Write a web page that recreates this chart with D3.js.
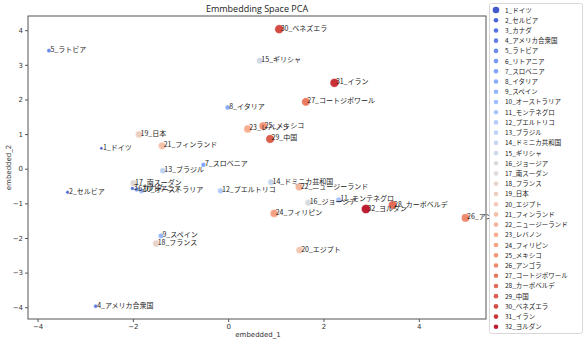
<!DOCTYPE html>
<html>
<head>
<meta charset="utf-8">
<script src="https://cdn.jsdelivr.net/npm/d3@7"></script>
<style>
  html, body { margin: 0; padding: 0; background: #fff; }
  svg { display: block; }
  text { font-family: "Noto Sans CJK JP", "Noto Sans", sans-serif; }
</style>
</head>
<body>
<svg id="chart" width="586" height="345"></svg>
<script>
// Country labels (index_name), in legend order
const countries = ["ドイツ","セルビア","カナダ","アメリカ合衆国","ラトビア","リトアニア","スロベニア","イタリア",
  "スペイン","オーストラリア","モンテネグロ","プエルトリコ","ブラジル","ドミニカ共和国","ギリシャ","ジョージア",
  "南スーダン","フランス","日本","エジプト","フィンランド","ニュージーランド","レバノン","フィリピン",
  "メキシコ","アンゴラ","コートジボワール","カーボベルデ","中国","ベネズエラ","イラン","ヨルダン"];

// First principal component of each country's embedding
const embedded1 = [-2.66,-3.37,-2.01,-2.78,-3.76,-1.92,-0.52,-0.01,
  -1.41,-1.82,2.32,-0.16,-1.37,0.90,0.665,1.68,
  -1.985,-1.51,-1.87,1.50,-1.385,1.49,0.41,0.965,
  0.735,4.98,1.63,3.45,0.88,1.07,2.23,2.89];

// Second principal component
const embedded2 = [0.59,-0.68,-0.57,-3.97,3.41,-0.60,0.11,1.77,
  -1.94,-0.64,-0.90,-0.64,-0.06,-0.39,3.12,-0.98,
  -0.42,-2.16,0.99,-2.35,0.66,-0.53,1.15,-1.29,
  1.23,-1.42,1.93,-1.05,0.86,4.03,2.48,-1.165];

const xTicks = [-4,-2,0,2,4];
const yTicks = [-4,-3,-2,-1,0,1,2,3,4];

const labels = countries.map((c, i) => `${i + 1}_${c}`);
const data = labels.map((l, i) => ({ label: l, idx: i, x: embedded1[i], y: embedded2[i] }));

// Diverging blue→grey→red colour ramp
const coolwarmStops = ["#3b4cc0","#5977e3","#7b9ff9","#9ebeff","#c0d4f5","#dddcdc",
  "#f2cbb7","#f7ac8e","#ee8468","#d65244","#b40426"];
const ramp = d3.scaleLinear().domain(d3.range(11).map(i => i / 10)).range(coolwarmStops)
  .interpolate(d3.interpolateRgb);
const n = labels.length;
const color = i => ramp((i + 1) / (n + 1));

const svg = d3.select("#chart");
const m = { left: 28, right: 486, top: 16, bottom: 319 };

const x = d3.scaleLinear().domain([-4.2, 5.41]).range([m.left, m.right]);
const y = d3.scaleLinear().domain([-4.34, 4.41]).range([m.bottom, m.top]);
// marker area grows with the country index
const r = d3.scaleSqrt().domain([0, n - 1]).range([1.5, 4.5]);
const rArea = i => Math.sqrt(1.5 * 1.5 + (4.5 * 4.5 - 1.5 * 1.5) * i / (n - 1));

// frame
svg.append("rect")
  .attr("x", m.left).attr("y", m.top)
  .attr("width", m.right - m.left).attr("height", m.bottom - m.top)
  .attr("fill", "none").attr("stroke", "#555").attr("stroke-width", 1);

// axes
const xAxis = svg.append("g").attr("transform", `translate(0,${m.bottom})`)
  .call(d3.axisBottom(x).tickValues(xTicks).tickSize(3).tickPadding(2)
    .tickFormat(d => d < 0 ? "\u2212" + Math.abs(d) : d));
const yAxis = svg.append("g").attr("transform", `translate(${m.left},0)`)
  .call(d3.axisLeft(y).tickValues(yTicks).tickSize(3).tickPadding(2)
    .tickFormat(d => d < 0 ? "\u2212" + Math.abs(d) : d));
[xAxis, yAxis].forEach(g => {
  g.select(".domain").remove();
  g.selectAll(".tick line").attr("stroke", "#555");
  g.selectAll(".tick text").attr("fill", "#333").style("font-size", "7px")
    .style("font-family", "'DejaVu Sans', sans-serif");
});

// axis titles and chart title
svg.append("text").attr("x", 258).attr("y", 337).attr("text-anchor", "middle")
  .style("font-size", "7px").style("font-family", "'DejaVu Sans', sans-serif").attr("fill", "#333")
  .text("embedded_1");
svg.append("text").attr("transform", `translate(11,${(m.top + m.bottom) / 2}) rotate(-90)`)
  .attr("text-anchor", "middle")
  .style("font-size", "7px").style("font-family", "'DejaVu Sans', sans-serif").attr("fill", "#333")
  .text("embedded_2");
svg.append("text").attr("x", (m.left + m.right) / 2).attr("y", 12).attr("text-anchor", "middle")
  .style("font-size", "9px").style("font-family", "'Open Sans', sans-serif").attr("fill", "#222")
  .text("Emmbedding Space PCA");

// points
const plot = svg.append("g");
plot.selectAll("circle").data(data).join("circle")
  .attr("cx", d => x(d.x)).attr("cy", d => y(d.y))
  .attr("r", d => rArea(d.idx))
  .attr("fill", d => color(d.idx))
  .attr("stroke", "#fff").attr("stroke-width", 0.4);

// point labels
plot.selectAll("text.lbl").data(data).join("text").attr("class", "lbl")
  .attr("x", d => x(d.x) + 1.5).attr("y", d => y(d.y) + 1.5)
  .style("font-size", "7px").attr("fill", "#222")
  .text(d => d.label);

// legend
const lg = svg.append("g");
lg.append("rect").attr("x", 489.5).attr("y", 3.5).attr("width", 93).attr("height", 330)
  .attr("rx", 2).attr("fill", "#fff").attr("stroke", "#d8d8d8");
const step = 10.22;
const items = lg.selectAll("g.item").data(data).join("g").attr("class", "item")
  .attr("transform", (d, i) => `translate(0,${10 + i * step})`);
items.append("circle").attr("cx", 496).attr("cy", 0)
  .attr("r", (d, i) => i === 0 ? 3.3 : 2.3)
  .attr("fill", d => color(d.idx));
items.append("text").attr("x", 505).attr("y", 2.5)
  .style("font-size", "6.5px").attr("fill", "#222")
  .text(d => d.label);
</script>
</body>
</html>
